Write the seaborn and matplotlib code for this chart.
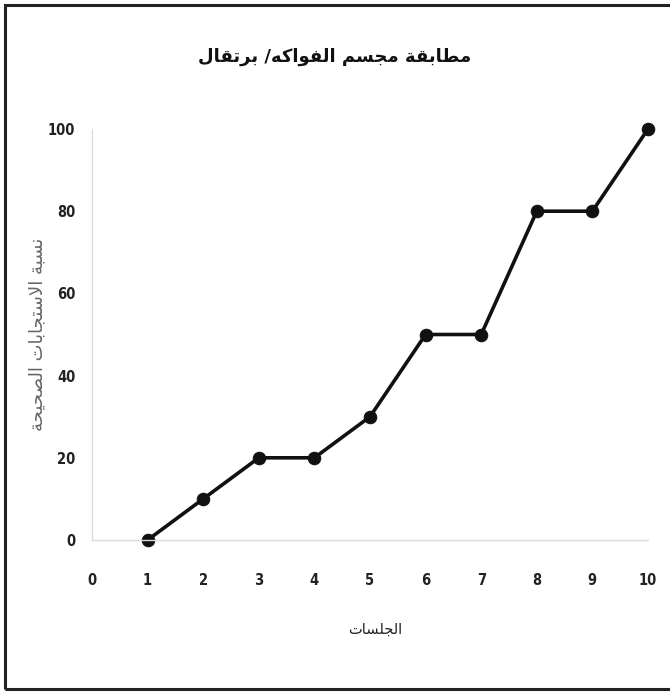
import matplotlib
matplotlib.use("Agg")
import matplotlib.pyplot as plt
import seaborn as sns
import pandas as pd
from matplotlib.patches import Rectangle

# Session numbers and percentage of correct responses
sessions = [1, 2, 3, 4, 5, 6, 7, 8, 9, 10]
correct_pct = [0, 10, 20, 20, 30, 50, 50, 80, 80, 100]
x_ticks = [0, 1, 2, 3, 4, 5, 6, 7, 8, 9, 10]
y_ticks = [0, 20, 40, 60, 80, 100]

title_text = "مطابقة مجسم الفواكه/ برتقال"
x_label_text = "الجلسات"
y_label_text = "نسبة الاستجابات الصحيحة"

# Minimal Arabic shaping: contextual forms + lam-alef, then visual (LTR) order
FORMS = {
    "ا": (0xFE8D, 0xFE8E), "ة": (0xFE93, 0xFE94), "ر": (0xFEAD, 0xFEAE),
    "و": (0xFEED, 0xFEEE),
    "ب": (0xFE8F, 0xFE90, 0xFE91, 0xFE92), "ت": (0xFE95, 0xFE96, 0xFE97, 0xFE98),
    "ج": (0xFE9D, 0xFE9E, 0xFE9F, 0xFEA0), "ح": (0xFEA1, 0xFEA2, 0xFEA3, 0xFEA4),
    "س": (0xFEB1, 0xFEB2, 0xFEB3, 0xFEB4), "ص": (0xFEB9, 0xFEBA, 0xFEBB, 0xFEBC),
    "ط": (0xFEC1, 0xFEC2, 0xFEC3, 0xFEC4), "ف": (0xFED1, 0xFED2, 0xFED3, 0xFED4),
    "ق": (0xFED5, 0xFED6, 0xFED7, 0xFED8), "ك": (0xFED9, 0xFEDA, 0xFEDB, 0xFEDC),
    "ل": (0xFEDD, 0xFEDE, 0xFEDF, 0xFEE0), "م": (0xFEE1, 0xFEE2, 0xFEE3, 0xFEE4),
    "ن": (0xFEE5, 0xFEE6, 0xFEE7, 0xFEE8), "ه": (0xFEE9, 0xFEEA, 0xFEEB, 0xFEEC),
    "ي": (0xFEF1, 0xFEF2, 0xFEF3, 0xFEF4),
}


def shape_arabic(text):
    out = []
    i = 0
    n = len(text)
    prev_joins = False
    while i < n:
        ch = text[i]
        if ch not in FORMS:
            out.append(ch)
            prev_joins = False
            i += 1
            continue
        # lam-alef ligature
        if ch == "ل" and i + 1 < n and text[i + 1] == "ا":
            out.append(chr(0xFEFC if prev_joins else 0xFEFB))
            prev_joins = False
            i += 2
            continue
        forms = FORMS[ch]
        dual = len(forms) == 4
        next_is_letter = i + 1 < n and text[i + 1] in FORMS
        joins_next = dual and next_is_letter
        if prev_joins and joins_next:
            g = forms[3]
        elif prev_joins:
            g = forms[1]
        elif joins_next:
            g = forms[2]
        else:
            g = forms[0]
        out.append(chr(g))
        prev_joins = dual
        i += 1
    return "".join(out)[::-1]


df = pd.DataFrame({"session": sessions, "pct": correct_pct})

sns.set_style("white")
plt.rcParams["font.family"] = ["DejaVu Sans"]

fig = plt.figure(figsize=(6.70, 6.93), dpi=100)
ax = fig.add_axes([92 / 670, 1 - 540 / 693, (648 - 92) / 670, (540 - 129) / 693])

sns.lineplot(data=df, x="session", y="pct", ax=ax, color="#111111",
             linewidth=2.6, marker="o", markersize=9,
             markeredgecolor="#111111", markerfacecolor="#111111",
             clip_on=False)

ax.set_xlim(0, 10)
ax.set_ylim(0, 100)
ax.set_xticks(x_ticks)
ax.set_yticks(y_ticks)
ax.set_xticklabels([str(v) for v in x_ticks], fontsize=10.5, color="#222222",
                   fontstretch="condensed", fontweight="bold")
ax.set_yticklabels([str(v) for v in y_ticks], fontsize=10.5, color="#222222",
                   fontstretch="condensed", fontweight="bold")
ax.tick_params(axis="x", length=0, pad=24)
ax.tick_params(axis="y", length=0, pad=12)

for side in ["top", "right"]:
    ax.spines[side].set_visible(False)
for side in ["left", "bottom"]:
    ax.spines[side].set_color("#dddddd")
    ax.spines[side].set_linewidth(1.0)

ax.set_xlabel(shape_arabic(x_label_text), fontsize=10.5, color="#222222")
ax.xaxis.set_label_coords(0.51, -(622 - 540) / 411)
ax.set_ylabel(shape_arabic(y_label_text), fontsize=13, color="#666666")
ax.yaxis.set_label_coords(-(92 - 37) / 556, 0.5)
ax.yaxis.label.set_va("center")

fig.text(335 / 670, 1 - 57 / 693, shape_arabic(title_text), ha="center", va="center",
         fontsize=13, fontweight="bold", color="#111111")

# outer frame around the chart area
fig.patches.append(Rectangle((5 / 670, 4 / 693), 1.0, 1 - 9 / 693,
                             transform=fig.transFigure, fill=False,
                             edgecolor="#222222", linewidth=2.2))

fig.savefig("out.png", dpi=100, facecolor="white")
